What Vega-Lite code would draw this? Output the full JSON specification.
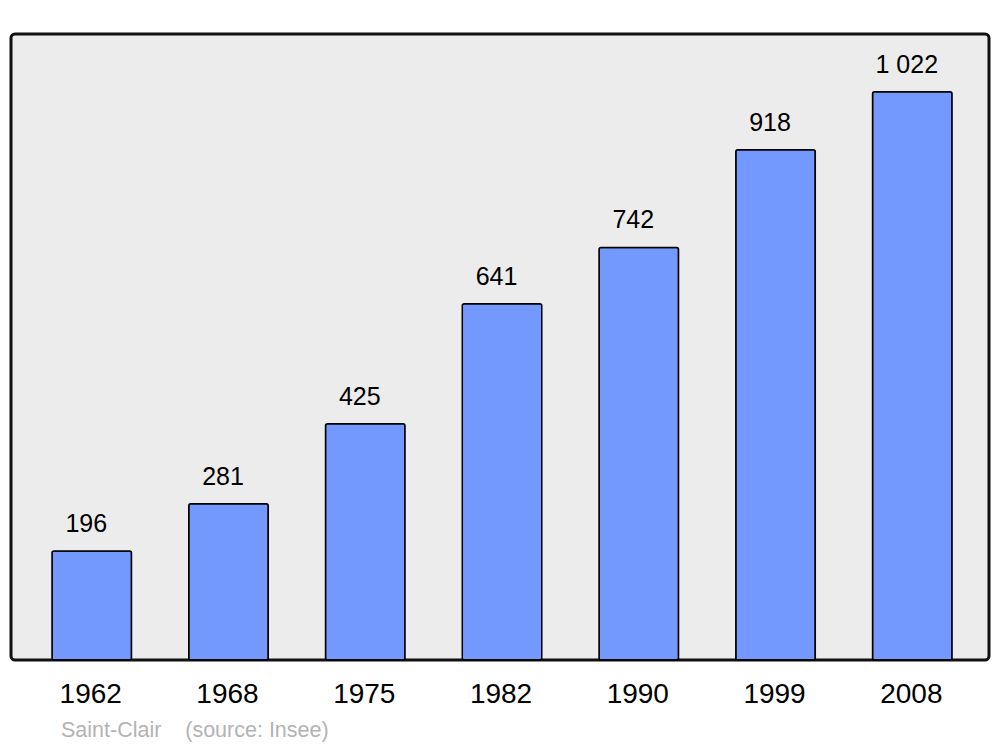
{
  "$schema": "https://vega.github.io/schema/vega-lite/v6.json",
  "width": 978,
  "height": 626,
  "autosize": {"type": "none"},
  "padding": {"left": 11, "top": 34, "right": 11, "bottom": 87},
  "background": "white",
  "config": {
    "font": "Liberation Sans",
    "view": {"stroke": "#111111", "strokeWidth": 3, "cornerRadius": 4, "fill": "#ececec"},
    "locale": {"number": {"decimal": ",", "thousands": " ", "grouping": [3], "currency": ["", " €"]}}
  },
  "title": {
    "text": "Saint-Clair\u00a0\u00a0\u00a0\u00a0(source: Insee)",
    "orient": "bottom",
    "anchor": "start",
    "dx": 50,
    "offset": 12,
    "fontSize": 21.5,
    "fontWeight": "normal",
    "color": "#b3b3b3",
    "font": "Liberation Sans"
  },
  "data": {
    "values": [
      {"year": "1962", "population": 196},
      {"year": "1968", "population": 281},
      {"year": "1975", "population": 425},
      {"year": "1982", "population": 641},
      {"year": "1990", "population": 742},
      {"year": "1999", "population": 918},
      {"year": "2008", "population": 1022}
    ]
  },
  "encoding": {
    "x": {
      "field": "year",
      "type": "nominal",
      "sort": null,
      "scale": {"paddingInner": 0.4187, "paddingOuter": 0.285, "align": 0.526},
      "axis": {
        "title": null,
        "domain": false,
        "ticks": false,
        "labelAngle": 0,
        "labelFontSize": 28,
        "labelColor": "#000000",
        "labelPadding": 20,
        "labelOffset": -1,
        "labelFont": "Liberation Sans"
      }
    },
    "y": {
      "field": "population",
      "type": "quantitative",
      "scale": {"domain": [0, 1126], "nice": false},
      "axis": null
    }
  },
  "layer": [
    {
      "mark": {"type": "bar", "fill": "#7399ff", "stroke": "#000000", "strokeWidth": 1.5, "cornerRadius": 2}
    },
    {
      "mark": {"type": "text", "baseline": "alphabetic", "dx": -5.5, "dy": -19, "fontSize": 25, "color": "#000000", "font": "Liberation Sans"},
      "encoding": {"text": {"field": "population", "type": "quantitative", "format": ",d"}}
    }
  ]
}
